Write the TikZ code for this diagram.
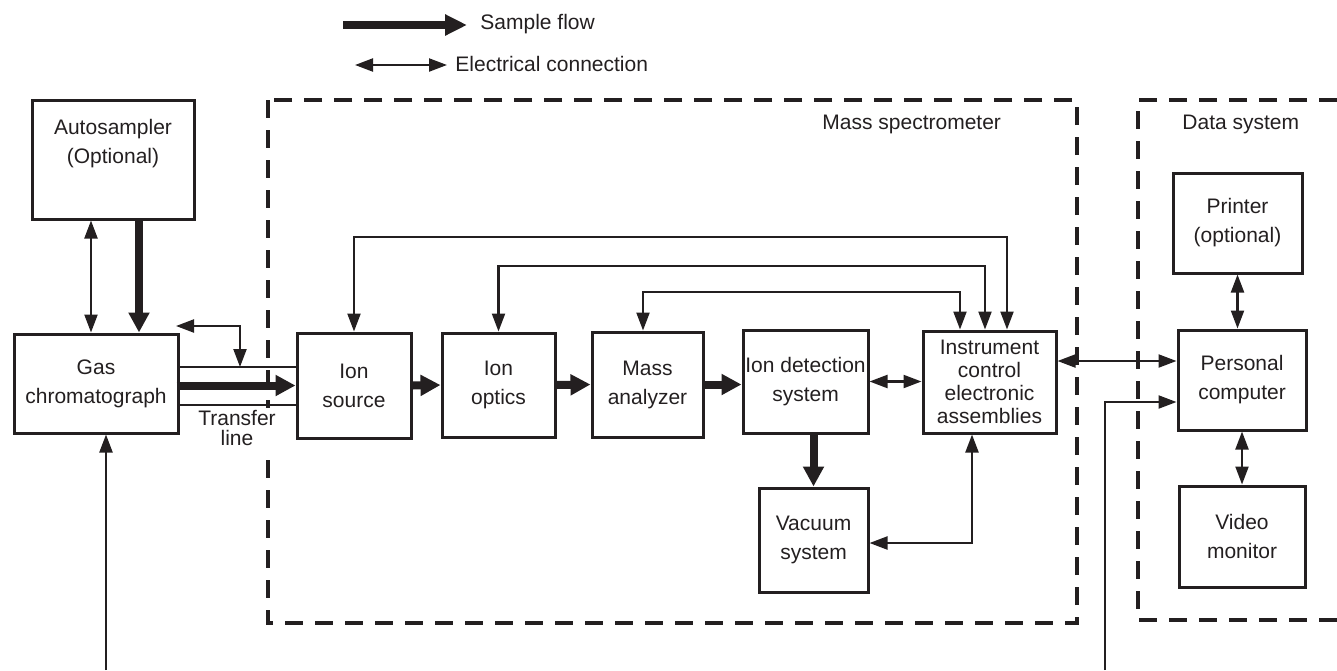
\documentclass[tikz,border=0pt]{standalone}
\usepackage{fontspec}
\setmainfont{Liberation Sans}
\usetikzlibrary{arrows.meta}
\definecolor{ink}{HTML}{231F20}
\begin{document}
\begin{tikzpicture}[x=0.5pt,y=-0.5pt,
  every node/.style={text=ink},
  txt/.style={font=\fontsize{10.5}{14.5}\selectfont, align=center, inner sep=0pt},
  box/.style={draw=ink, line width=1.5pt, align=center, inner sep=0pt, font=\fontsize{10.5}{14.5}\selectfont},
  elec/.style={draw=ink, line width=1.1pt, {Triangle[length=9pt,width=6.5pt]}-{Triangle[length=9pt,width=6.5pt]}},
  elecin/.style={draw=ink, line width=1.1pt, -{Triangle[length=9pt,width=6.5pt]}},
  flow/.style={draw=ink, line width=4pt, -{Triangle[length=10pt,width=10pt]}},
  tline/.style={draw=ink, line width=1.1pt},
  dashbox/.style={draw=ink, line width=1.8pt, dash pattern=on 9pt off 6pt}
]
\useasboundingbox (0,0) rectangle (1337,670);

% legend
\coordinate (lf1) at (343,25);
\coordinate (lf2) at (467,25);
\coordinate (le1) at (355,65);
\coordinate (le2) at (447,65);
\draw[flow,-{Triangle[length=11pt,width=10pt]}] (lf1) -- (lf2);
\draw[elec] (le1) -- (le2);
\node[txt, anchor=west] (lsf) at (480,24) {Sample flow};
\node[txt, anchor=west] (lec) at (455,64) {Electrical connection};

% dashed enclosures
\draw[dashbox] (268,100) rectangle (1077,623);
\draw[dashbox] (1337,100) -- (1138,100) -- (1138,620) -- (1337,620);
\node[txt, anchor=west] (msl) at (822,124) {Mass spectrometer};
\node[txt, anchor=west] (dsl) at (1182,124) {Data system};

% boxes
\node[box, minimum width=81pt, minimum height=59.5pt] (auto) at (113,159.5) {};
\node[txt] (autot) at (113,144) {Autosampler\\(Optional)};
\node[box, minimum width=82pt, minimum height=49.5pt] (gc) at (96,383.5) {Gas\\chromatograph};
\node[box, minimum width=57pt, minimum height=52.5pt] (isrc) at (354,385.5) {Ion\\source};
\node[box, minimum width=56.5pt, minimum height=52pt] (iopt) at (498.5,385) {Ion\\optics};
\node[box, minimum width=55.5pt, minimum height=52.5pt] (ma) at (647.5,384.5) {Mass\\analyzer};
\node[box, minimum width=62.5pt, minimum height=51.5pt] (ids) at (805.5,381.5) {Ion detection\\system};
\node[box, minimum width=66.5pt, minimum height=51pt, font=\fontsize{10.5}{11.5}\selectfont] (ice) at (989.5,382) {Instrument\\control\\electronic\\assemblies};
\node[box, minimum width=54.5pt, minimum height=52pt] (vac) at (813.5,540) {Vacuum\\system};
\node[box, minimum width=64.5pt, minimum height=50pt] (pr) at (1237.5,223) {Printer\\(optional)};
\node[box, minimum width=64pt, minimum height=50pt] (pc) at (1242,380) {Personal\\computer};
\node[box, minimum width=63pt, minimum height=50.5pt] (vm) at (1242,536.5) {Video\\monitor};

% autosampler <-> GC
\coordinate (a1) at (91,0);
\coordinate (a2) at (139,0);
\draw[elec] (a1 |- auto.south) -- (a1 |- gc.north);
\draw[flow] (a2 |- auto.south) -- (a2 |- gc.north);

% GC input from below
\coordinate (gcin) at (106,670);
\draw[elecin] (gcin) -- (gcin |- gc.south);

% transfer line
\coordinate (t1) at (0,367);
\coordinate (t2) at (0,405);
\draw[tline] (gc.east |- t1) -- (isrc.west |- t1);
\draw[tline] (gc.east |- t2) -- (isrc.west |- t2);
\draw[flow] ([xshift=-1.5pt]gc.east |- isrc.west) -- (isrc.west);
\coordinate (tA) at (176,326);
\coordinate (tB) at (240,367);
\draw[elec] (tA) -| (tB);
\node[txt, font=\fontsize{10.5}{10}\selectfont, fill=white, inner sep=1pt] (tl) at (237,428) {Transfer\\line};

% main flow
\draw[flow] (isrc.east) -- (iopt.west);
\draw[flow] (iopt.east) -- (ma.west);
\draw[flow] (ma.east) -- (ma.east -| ids.west);
\draw[flow] (vac.north |- ids.south) -- (vac.north);

% control loops
\coordinate (y1) at (0,237);
\coordinate (y2) at (0,266);
\coordinate (y3) at (0,292);
\coordinate (c1) at ([xshift=8.75pt]ice.north);
\coordinate (c2) at ([xshift=-2.25pt]ice.north);
\coordinate (c3) at ([xshift=-14.75pt]ice.north);
\coordinate (m3) at ([xshift=-2.25pt]ma.north);
\draw[elec] (isrc.north) -- (isrc.north |- y1) -| (c1);
\draw[elec] (iopt.north) -- (iopt.north |- y2) -| (c2);
\draw[elec] (m3) -- (m3 |- y3) -| (c3);
\draw[elec] (ids.east) -- (ids.east -| ice.west);
\coordinate (c4) at ([xshift=-8.75pt]ice.south);
\draw[elec] ([yshift=-1.5pt]vac.east) -| (c4);

% data system
\coordinate (p1) at ([yshift=10.5pt]ice.east);
\draw[elec] (p1) -- (p1 -| pc.west);
\coordinate (pcin) at (1105,670);
\coordinate (p2) at ([yshift=-11pt]pc.west);
\draw[elecin] (pcin) |- (p2);
\draw[elec] (pr.south) -- (pr.south |- pc.north);
\draw[elec] (pc.south) -- (vm.north);
\end{tikzpicture}
\end{document}
